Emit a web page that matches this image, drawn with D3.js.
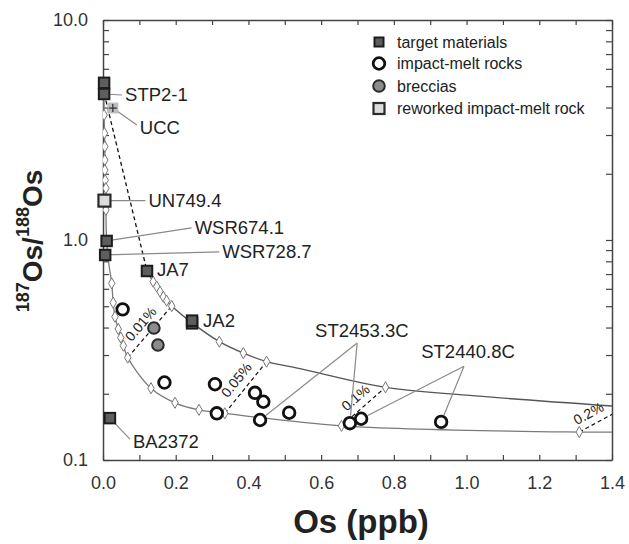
<!DOCTYPE html>
<html>
<head>
<meta charset="utf-8">
<script src="https://cdn.jsdelivr.net/npm/d3@7/dist/d3.min.js"></script>
<style>
  body { margin: 0; background: #fff; }
  svg { display: block; font-family: 'Liberation Sans', Arial, sans-serif; }
</style>
</head>
<body>
<svg id="chart" width="629" height="544"></svg>
<script>
/* ---- Data (Os in ppb, 187Os/188Os) ---- */
const targetMaterials = [
  { name: 'STP2-1', os: 0.003, ratio: 5.18 },
  { name: 'STP2-1', os: 0.003, ratio: 4.61 },
  { name: 'WSR674.1', os: 0.010, ratio: 0.99 },
  { name: 'WSR728.7', os: 0.006, ratio: 0.855 },
  { name: 'JA7', os: 0.121, ratio: 0.723 },
  { name: 'JA2', os: 0.245, ratio: 0.418 },
  { name: 'JA2', os: 0.245, ratio: 0.430 },
  { name: 'BA2372', os: 0.019, ratio: 0.155 }
];
const impactMeltRocks = [
  [0.054, 0.484], [0.169, 0.225], [0.308, 0.221], [0.313, 0.163],
  [0.418, 0.202], [0.441, 0.184], [0.432, 0.152], [0.512, 0.164],
  [0.679, 0.147], [0.710, 0.154], [0.930, 0.149]
];
const breccias = [[0.140, 0.398], [0.151, 0.333]];
const reworkedMelt = [{ name: 'UN749.4', os: 0.004, ratio: 1.51 }];
const ucc = [{ name: 'UCC', os: 0.027, ratio: 3.98 }];

// mixing curves (line nodes) and their % markers (diamonds)
const upperCurve = [
  [0.121, 0.723], [0.138, 0.647], [0.148, 0.614], [0.157, 0.582], [0.166, 0.552],
  [0.175, 0.530], [0.189, 0.501], [0.245, 0.420], [0.320, 0.345], [0.386, 0.306],
  [0.450, 0.280], [0.542, 0.260], [0.777, 0.214], [1.000, 0.197], [1.400, 0.176]
];
const upperDiamonds = [
  [0.138, 0.647], [0.148, 0.614], [0.157, 0.582], [0.166, 0.552], [0.175, 0.530],
  [0.189, 0.501], [0.320, 0.345], [0.386, 0.306], [0.450, 0.280], [0.777, 0.214]
];
const lowerCurve = [
  [0.002, 4.50], [0.003, 3.70], [0.004, 3.06], [0.005, 2.66], [0.005, 2.31],
  [0.005, 2.08], [0.006, 1.87], [0.008, 1.72], [0.008, 1.37], [0.010, 1.00],
  [0.016, 0.78], [0.024, 0.635], [0.028, 0.519], [0.033, 0.448], [0.042, 0.394],
  [0.049, 0.360], [0.056, 0.331], [0.068, 0.292], [0.132, 0.212], [0.198, 0.182],
  [0.264, 0.169], [0.335, 0.163], [0.656, 0.143], [1.310, 0.134], [1.400, 0.134]
];
const lowerDiamonds = [
  [0.003, 3.70], [0.004, 3.06], [0.005, 2.66], [0.005, 2.31], [0.005, 2.08],
  [0.006, 1.87], [0.008, 1.72], [0.008, 1.37], [0.024, 0.635], [0.028, 0.519],
  [0.033, 0.448], [0.042, 0.394], [0.049, 0.360], [0.056, 0.331], [0.068, 0.292],
  [0.132, 0.212], [0.198, 0.182], [0.264, 0.169], [0.335, 0.163], [0.656, 0.143],
  [1.310, 0.134]
];
const mixingLine = [[0.008, 4.3], [0.121, 0.723]];
const percentLabels = ['0.01%', '0.05%', '0.1%', '0.2%'];
const percentFrom = [[0.068, 0.292], [0.335, 0.163], [0.656, 0.143], [1.310, 0.134]];
const percentTo = [[0.189, 0.501], [0.450, 0.280], [0.777, 0.214], [1.440, 0.175]];

const xTicks = d3.range(0, 15).map(i => i / 10);
const yTicks = [0.1, 0.2, 0.3, 0.4, 0.5, 0.6, 0.7, 0.8, 0.9, 1, 2, 3, 4, 5, 6, 7, 8, 9, 10];
const legendItems = ['target materials', 'impact-melt rocks', 'breccias', 'reworked impact-melt rock'];

/* ---- Layout ---- */
const width = 629, height = 544;
const margin = { top: 20, right: 17, bottom: 84, left: 103 };
const x = d3.scaleLinear().domain([0, 1.4]).range([margin.left, width - margin.right]);
const y = d3.scaleLog().domain([0.1, 10]).range([height - margin.bottom, margin.top]);

const svg = d3.select('#chart');
const ink = '#222', frame = '#444';

svg.append('clipPath').attr('id', 'plotClip')
  .append('rect')
  .attr('x', margin.left).attr('y', margin.top)
  .attr('width', x(1.4) - x(0)).attr('height', y(0.1) - y(10));

/* ---- Axes (inward ticks on all sides) ---- */
function styleAxis(g) {
  g.selectAll('path.domain').attr('stroke', frame).attr('stroke-width', 1.5);
  g.selectAll('.tick line').attr('stroke', frame).attr('stroke-width', 1.2);
  g.selectAll('.tick text').attr('fill', '#333').attr('font-size', 18)
    .attr('font-family', "'Liberation Sans', Arial, sans-serif");
}
svg.append('g')
  .attr('transform', `translate(0,${y(0.1)})`)
  .call(d3.axisBottom(x).tickValues(xTicks).tickSize(-5).tickSizeOuter(0).tickPadding(16)
    .tickFormat(d => Math.round(d * 10) % 2 === 0 ? d3.format('.1f')(d) : ''))
  .call(styleAxis);
svg.append('g')
  .attr('transform', `translate(0,${y(10)})`)
  .call(d3.axisTop(x).tickValues(xTicks).tickSize(-5).tickSizeOuter(0).tickFormat(''))
  .call(styleAxis);
svg.append('g')
  .attr('transform', `translate(${x(0)},0)`)
  .call(d3.axisLeft(y).tickValues(yTicks).tickSize(-6).tickSizeOuter(0).tickPadding(15)
    .tickFormat(d => [0.1, 1, 10].includes(d) ? d3.format('.1f')(d) : ''))
  .call(styleAxis);
svg.append('g')
  .attr('transform', `translate(${x(1.4)},0)`)
  .call(d3.axisRight(y).tickValues(yTicks).tickSize(-6).tickSizeOuter(0).tickFormat(''))
  .call(styleAxis);

/* ---- Mixing curves ---- */
const plot = svg.append('g').attr('clip-path', 'url(#plotClip)');
const curveLine = d3.line().x(d => x(d[0])).y(d => y(d[1])).curve(d3.curveCatmullRom.alpha(0.5));

plot.append('path').datum(lowerCurve)
  .attr('d', curveLine).attr('fill', 'none').attr('stroke', '#7a7a7a').attr('stroke-width', 1.3);
plot.append('path').datum(upperCurve)
  .attr('d', curveLine).attr('fill', 'none').attr('stroke', '#555').attr('stroke-width', 1.3);

// dashed mixing line + % tie lines
plot.append('path').datum(mixingLine)
  .attr('d', d3.line().x(d => x(d[0])).y(d => y(d[1])))
  .attr('fill', 'none').attr('stroke', '#111').attr('stroke-width', 1.3).attr('stroke-dasharray', '4,3');

percentLabels.forEach((label, i) => {
  const x1 = x(percentFrom[i][0]), y1 = y(percentFrom[i][1]);
  const x2 = x(percentTo[i][0]), y2 = y(percentTo[i][1]);
  plot.append('line')
    .attr('x1', x1).attr('y1', y1).attr('x2', x2).attr('y2', y2)
    .attr('stroke', '#111').attr('stroke-width', 1.2).attr('stroke-dasharray', '4,3');
  const len = Math.hypot(x2 - x1, y2 - y1);
  const ux = (x2 - x1) / len, uy = (y2 - y1) / len;
  const along = i === 3 ? 17 : len * 0.5;
  const off = 12;
  const tx = x1 + ux * along + uy * off, ty = y1 + uy * along - ux * off;
  const ang = Math.atan2(uy, ux) * 180 / Math.PI;
  svg.append('text')
    .attr('transform', `translate(${tx},${ty}) rotate(${ang})`)
    .attr('text-anchor', 'middle').attr('dy', '0.35em')
    .attr('font-size', 14).attr('fill', ink)
    .text(label);
});

// % markers on curves
const diamond = d3.symbol().type(d3.symbolDiamond).size(36);
plot.selectAll('.diamond')
  .data(upperDiamonds.concat(lowerDiamonds))
  .join('path')
  .attr('class', 'diamond')
  .attr('transform', d => `translate(${x(d[0])},${y(d[1])})`)
  .attr('d', diamond)
  .attr('fill', '#fff').attr('stroke', '#777').attr('stroke-width', 1);

/* ---- Sample labels and leaders ---- */
const sampleLabels = [
  { text: 'STP2-1', at: [0.003, 4.61], dx: 21, dy: 1, leader: true },
  { text: 'UCC', at: [0.027, 3.98], dx: 27, dy: 19, leader: true },
  { text: 'UN749.4', at: [0.004, 1.51], dx: 44, dy: 0, leader: true },
  { text: 'WSR674.1', at: [0.010, 0.99], dx: 88, dy: -13, leader: true },
  { text: 'WSR728.7', at: [0.006, 0.855], dx: 117, dy: -3, leader: true },
  { text: 'JA7', at: [0.121, 0.723], dx: 10, dy: -1, leader: false },
  { text: 'JA2', at: [0.245, 0.43], dx: 11, dy: 0, leader: false },
  { text: 'BA2372', at: [0.019, 0.155], dx: 23, dy: 23, leader: true }
];
const groupLabels = [
  { text: 'ST2453.3C', at: [0.712, 0.386], apex: [0.699, 0.340], targets: [[0.432, 0.152], [0.679, 0.147]] },
  { text: 'ST2440.8C', at: [1.004, 0.310], apex: [0.993, 0.267], targets: [[0.710, 0.154], [0.930, 0.149]] }
];
const leaderColor = '#8a8a8a';
const circleR = 5.8;

sampleLabels.filter(d => d.leader).forEach(d => {
  const px = x(d.at[0]), py = y(d.at[1]);
  svg.append('line')
    .attr('x1', px).attr('y1', py)
    .attr('x2', px + d.dx - 3).attr('y2', py + d.dy - (d.dy > 5 ? 2 : 0))
    .attr('stroke', leaderColor).attr('stroke-width', 1.2);
});
groupLabels.forEach(g => {
  const ax = x(g.apex[0]), ay = y(g.apex[1]);
  g.targets.forEach(t => {
    const tx = x(t[0]), ty = y(t[1]);
    const len = Math.hypot(tx - ax, ty - ay);
    const k = (len - circleR - 1.5) / len;
    svg.append('line')
      .attr('x1', ax).attr('y1', ay)
      .attr('x2', ax + (tx - ax) * k).attr('y2', ay + (ty - ay) * k)
      .attr('stroke', leaderColor).attr('stroke-width', 1.2);
  });
});

/* ---- Markers ---- */
function squareMarker(sel, size, fill, stroke, sw) {
  return sel.append('rect')
    .attr('x', -size / 2).attr('y', -size / 2)
    .attr('width', size).attr('height', size)
    .attr('fill', fill).attr('stroke', stroke).attr('stroke-width', sw);
}
function circleMarker(sel, fill, stroke, sw) {
  return sel.append('circle').attr('r', circleR)
    .attr('fill', fill).attr('stroke', stroke).attr('stroke-width', sw);
}
const markerStyles = [
  g => squareMarker(g, 10.5, '#5e5e5e', '#1c1c1c', 2),
  g => circleMarker(g, '#fff', '#111', 2.8),
  g => circleMarker(g, '#8c8c8c', '#2a2a2a', 2),
  g => squareMarker(g, 12, '#dcdcdc', '#2a2a2a', 2.2)
];

// UCC: light square with a cross
ucc.forEach(d => {
  const g = svg.append('g').attr('transform', `translate(${x(d.os)},${y(d.ratio)})`);
  squareMarker(g, 11, '#bdbdbd', 'none', 0);
  g.append('path').attr('d', 'M-4,0H4M0,-4V4').attr('stroke', '#333').attr('stroke-width', 1.2);
});

[targetMaterials.map(d => [d.os, d.ratio]), impactMeltRocks, breccias, reworkedMelt.map(d => [d.os, d.ratio])]
  .forEach((series, i) => {
    series.forEach(d => {
      const g = svg.append('g').attr('transform', `translate(${x(d[0])},${y(d[1])})`);
      markerStyles[i](g);
    });
  });

/* ---- Label text ---- */
sampleLabels.forEach(d => {
  svg.append('text')
    .attr('x', x(d.at[0]) + d.dx).attr('y', y(d.at[1]) + d.dy)
    .attr('dy', '0.35em').attr('font-size', 18.5).attr('fill', ink)
    .text(d.text);
});
groupLabels.forEach(g => {
  svg.append('text')
    .attr('x', x(g.at[0])).attr('y', y(g.at[1]))
    .attr('dy', '0.35em').attr('text-anchor', 'middle')
    .attr('font-size', 18.5).attr('fill', ink)
    .text(g.text);
});

/* ---- Legend ---- */
const legend = svg.append('g').attr('transform', 'translate(379,42)');
legendItems.forEach((label, i) => {
  const row = legend.append('g').attr('transform', `translate(0,${[0, 21.5, 44, 66.5][i]})`);
  const m = row.append('g');
  markerStyles[i](m);
  if (i === 0) m.select('rect').attr('width', 9).attr('height', 9).attr('x', -4.5).attr('y', -4.5);
  if (i === 3) m.select('rect').attr('width', 11).attr('height', 11).attr('x', -5.5).attr('y', -5.5);
  row.append('text').attr('x', 18).attr('dy', '0.35em')
    .attr('font-size', 16).attr('fill', ink).text(label);
});

/* ---- Axis titles ---- */
svg.append('text')
  .attr('x', 361).attr('y', 533)
  .attr('text-anchor', 'middle').attr('font-size', 33).attr('font-weight', 'bold').attr('fill', ink)
  .text('Os (ppb)');

const yTitle = svg.append('text')
  .attr('transform', 'translate(42,241) rotate(-90)')
  .attr('text-anchor', 'middle').attr('font-weight', 'bold').attr('fill', ink)
  .attr('font-size', 28);
yTitle.append('tspan').attr('font-size', 18).attr('dy', -13).text('187');
yTitle.append('tspan').attr('dy', 13).text('Os/');
yTitle.append('tspan').attr('font-size', 18).attr('dy', -13).text('188');
yTitle.append('tspan').attr('dy', 13).text('Os');
</script>
</body>
</html>
